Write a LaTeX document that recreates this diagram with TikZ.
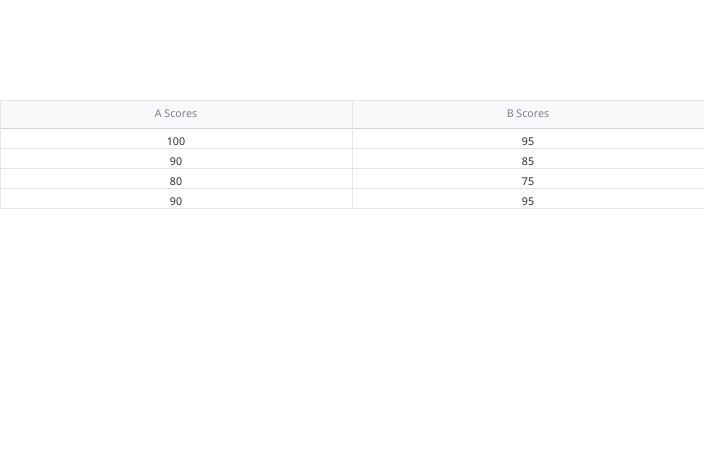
\documentclass[tikz,border=0pt]{standalone}
\usepackage{fontspec}
\setmainfont{Noto Sans}
\usetikzlibrary{positioning}
\definecolor{headfill}{HTML}{F8F9FA}
\definecolor{gridline}{HTML}{E6E6E6}
\definecolor{headline}{HTML}{D4D4D4}
\definecolor{headtext}{HTML}{7A7F88}
\definecolor{celltext}{HTML}{2B2B2B}
\tikzset{
  headcell/.style={font=\fontsize{8}{9}\selectfont, text=headtext},
  bodycell/.style={font=\fontsize{8}{9}\selectfont, text=celltext}
}

\begin{document}
\begin{tikzpicture}[x=0.75pt, y=-0.75pt, line width=0.75pt]
\useasboundingbox (0,0) rectangle (704,451);
% Header
    \fill[headfill] (0,100.5) rectangle (704,128);
    \draw[gridline] (0,100.5) -- (704,100.5);
    \draw[headline] (0,128) -- (704,128);
% Rows
    \draw[gridline] (0,148.5) -- (704,148.5);
    \draw[gridline] (0,168.5) -- (704,168.5);
    \draw[gridline] (0,188.5) -- (704,188.5);
    \draw[gridline] (0,208.5) -- (704,208.5);
% Columns
    \draw[gridline] (0.5,100.5) -- (0.5,208.5);
    \draw[gridline] (352.5,100.5) -- (352.5,208.5);
% Labels
    \node[headcell] (headA) at (176,113.5) {A Scores};
    \node[headcell] (headB) at (528,113.5) {B Scores};
    \node[bodycell] (a1) at (176,142) {100};
    \node[bodycell] (a2) at (176,162) {90};
    \node[bodycell] (a3) at (176,182) {80};
    \node[bodycell] (a4) at (176,202) {90};
    \node[bodycell] (b1) at (528,142) {95};
    \node[bodycell] (b2) at (528,162) {85};
    \node[bodycell] (b3) at (528,182) {75};
    \node[bodycell] (b4) at (528,202) {95};
\end{tikzpicture}
\end{document}
